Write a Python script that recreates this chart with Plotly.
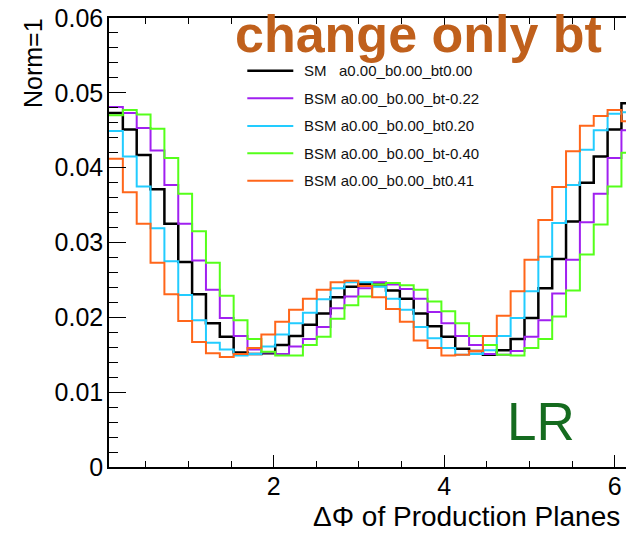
import numpy as np
import plotly.graph_objects as go

# Binning of the Delta-Phi histograms (38 equal bins across the frame)
PHI_LO = 0.068
PHI_HI = 6.2415
N_BINS = 38

series_names = [
    "SM\u00a0\u00a0\u00a0a0.00_b0.00_bt0.00",
    "BSM a0.00_b0.00_bt-0.22",
    "BSM a0.00_b0.00_bt0.20",
    "BSM a0.00_b0.00_bt-0.40",
    "BSM a0.00_b0.00_bt0.41",
]

# Bin contents, normalised to unit area
sm_bt000 = [0.0473, 0.0451, 0.0417, 0.0371, 0.0325, 0.0274, 0.0231, 0.0192, 0.0174, 0.0153,
            0.0151, 0.0152, 0.0163, 0.0175, 0.0190, 0.0205, 0.0227, 0.0241, 0.0245, 0.0244,
            0.0236, 0.0225, 0.0205, 0.0188, 0.0174, 0.0158, 0.0155, 0.0150, 0.0156, 0.0171,
            0.0199, 0.0239, 0.0278, 0.0328, 0.0380, 0.0415, 0.0451, 0.0486]
bsm_btm022 = [0.0481, 0.0473, 0.0453, 0.0423, 0.0377, 0.0325, 0.0276, 0.0237, 0.0199, 0.0175,
              0.0157, 0.0153, 0.0151, 0.0161, 0.0171, 0.0187, 0.0212, 0.0228, 0.0239, 0.0247,
              0.0244, 0.0238, 0.0225, 0.0207, 0.0192, 0.0175, 0.0163, 0.0151, 0.0150, 0.0155,
              0.0174, 0.0196, 0.0232, 0.0277, 0.0327, 0.0365, 0.0413, 0.0450]
bsm_bt020 = [0.0449, 0.0415, 0.0375, 0.0319, 0.0275, 0.0230, 0.0196, 0.0166, 0.0157, 0.0149,
             0.0151, 0.0161, 0.0177, 0.0192, 0.0206, 0.0224, 0.0239, 0.0247, 0.0247, 0.0241,
             0.0225, 0.0210, 0.0187, 0.0172, 0.0159, 0.0150, 0.0151, 0.0156, 0.0175, 0.0199,
             0.0235, 0.0281, 0.0326, 0.0377, 0.0424, 0.0450, 0.0472, 0.0474]
bsm_btm040 = [0.0470, 0.0477, 0.0471, 0.0452, 0.0413, 0.0365, 0.0315, 0.0273, 0.0229, 0.0196,
              0.0171, 0.0154, 0.0149, 0.0149, 0.0163, 0.0174, 0.0198, 0.0216, 0.0228, 0.0244,
              0.0246, 0.0243, 0.0237, 0.0221, 0.0208, 0.0192, 0.0175, 0.0163, 0.0150, 0.0149,
              0.0159, 0.0171, 0.0201, 0.0236, 0.0284, 0.0324, 0.0375, 0.0420]
bsm_bt041 = [0.0412, 0.0367, 0.0325, 0.0273, 0.0231, 0.0195, 0.0167, 0.0152, 0.0147, 0.0151,
             0.0159, 0.0177, 0.0194, 0.0210, 0.0225, 0.0237, 0.0247, 0.0249, 0.0242, 0.0227,
             0.0211, 0.0194, 0.0169, 0.0159, 0.0149, 0.0150, 0.0155, 0.0175, 0.0202, 0.0235,
             0.0277, 0.0330, 0.0374, 0.0422, 0.0456, 0.0469, 0.0477, 0.0462]

y_ticks = [0, 0.01, 0.02, 0.03, 0.04, 0.05, 0.06]
y_tick_text = ["0", "0.01", "0.02", "0.03", "0.04", "0.05", "0.06"]
x_ticks = [2, 4, 6]

series = [sm_bt000, bsm_btm022, bsm_bt020, bsm_btm040, bsm_bt041]
colors = ["#000000", "#a020f0", "#22ccff", "#55ff1a", "#ff661a"]
widths = [2.5, 2, 2, 2, 2]

FONT = "Liberation Sans, Arial, Helvetica, sans-serif"
W, H = 626, 535
ML, MR, MT, MB = 109, 0, 18, 68
PW, PH = W - ML - MR, H - MT - MB


def px_x(p):
    return (p - ML) / PW


def px_y(p):
    return (H - MB - p) / PH


edges = np.linspace(PHI_LO, PHI_HI, N_BINS + 1)

fig = go.Figure()
for name, vals, col, lw in zip(series_names, series, colors, widths):
    fig.add_trace(go.Scatter(
        x=edges, y=list(vals) + [vals[-1]], mode="lines", name=name,
        line=dict(color=col, width=lw, shape="hv"), showlegend=False,
        hoverinfo="skip",
    ))

# Hand-built legend box (line sample + label per histogram)
legend_rows = [70.7, 98.3, 126.0, 153.3, 180.7]
shapes = []
annotations = []
for name, col, lw, row in zip(series_names, colors, widths, legend_rows):
    shapes.append(dict(type="line", xref="paper", yref="paper",
                       x0=px_x(247.3), x1=px_x(293.3), y0=px_y(row), y1=px_y(row),
                       line=dict(color=col, width=lw)))
    annotations.append(dict(text=name, xref="paper", yref="paper",
                            x=px_x(302.0), y=px_y(row), xanchor="left", yanchor="middle",
                            showarrow=False, font=dict(family=FONT, size=15, color="#111111")))

annotations += [
    dict(text="<b>change only bt</b>", xref="paper", yref="paper",
         x=px_x(418.5), y=px_y(34), xanchor="center", yanchor="middle", showarrow=False,
         font=dict(family=FONT, size=52, color="#c0601c")),
    dict(text="LR", xref="paper", yref="paper",
         x=px_x(541), y=px_y(421), xanchor="center", yanchor="middle", showarrow=False,
         font=dict(family=FONT, size=53, color="#156b1f")),
    dict(text="\u0394\u03a6 of Production Planes", xref="paper", yref="paper",
         x=px_x(622), y=px_y(516), xanchor="right", yanchor="middle", showarrow=False,
         font=dict(family=FONT, size=28, color="black")),
    dict(text="Norm=1", xref="paper", yref="paper", textangle=-90,
         x=px_x(33), y=px_y(16), xanchor="center", yanchor="top", showarrow=False,
         font=dict(family=FONT, size=25, color="black")),
]

x_lo = PHI_LO
x_hi = PHI_LO + PW / 85.25

fig.update_layout(
    width=W, height=H, margin=dict(l=ML, r=MR, t=MT, b=MB, pad=0),
    paper_bgcolor="white", plot_bgcolor="white",
    font=dict(family=FONT, size=25, color="black"),
    shapes=shapes, annotations=annotations,
    xaxis=dict(range=[x_lo, x_hi], tickvals=x_ticks, ticks="inside", ticklen=12,
               tickcolor="black", showline=True, linecolor="black", linewidth=1.5,
               mirror="ticks", showgrid=False, zeroline=False, ticklabelstandoff=-4,
               tickfont=dict(family=FONT, size=25),
               minor=dict(ticks="inside", ticklen=6, dtick=0.5, tick0=0,
                          tickcolor="black", showgrid=False)),
    yaxis=dict(range=[0, 0.06], tickvals=y_ticks, ticktext=y_tick_text, ticks="inside",
               ticklen=17, tickcolor="black", showline=True, linecolor="black",
               linewidth=1.5, showgrid=False, zeroline=False, ticklabelstandoff=-1,
               tickfont=dict(family=FONT, size=25),
               minor=dict(ticks="inside", ticklen=9, dtick=0.002, tick0=0,
                          tickcolor="black", showgrid=False)),
    yaxis2=dict(range=[0, 0.06], overlaying="y", side="right", anchor="free", position=1,
                tickvals=y_ticks[1:], ticks="inside", ticklen=6, tickcolor="#333333",
                showticklabels=False, showline=False, showgrid=False, zeroline=False),
)

fig.write_html("out.html")
